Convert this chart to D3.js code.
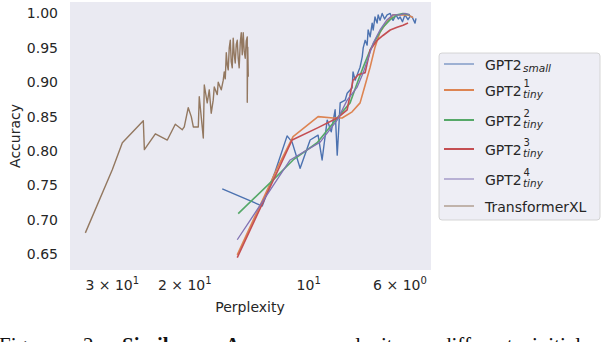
<!DOCTYPE html>
<html>
<head>
<meta charset="utf-8">
<script src="https://cdn.jsdelivr.net/npm/d3@7"></script>
<style>
  body { margin: 0; background: #fff; }
  text { font-family: 'DejaVu Sans', sans-serif; fill: #262626; }
  .caption { font-family: 'Liberation Serif', serif; fill: #111; }
</style>
</head>
<body>
<svg id="chart" width="602" height="342"></svg>
<script>
// Values (perplexity, accuracy)
const smallPpl = [16.17, 12.93, 12.03, 11.25, 10.94, 10.46, 9.89, 9.46, 9.25, 8.99, 8.79, 8.60, 8.50, 8.36, 8.13, 8.04,
    7.82, 7.78, 7.69, 7.60, 7.48, 7.39, 7.35, 7.27, 7.19, 7.15, 7.07, 6.99, 6.95, 6.88, 6.80, 6.76, 6.69, 6.61,
    6.52, 6.43, 6.32, 6.22, 6.12, 6.04, 5.98, 5.90, 5.82, 5.72, 5.65, 5.59, 5.50, 5.47];
const smallAcc = [0.745, 0.720, 0.770, 0.822, 0.813, 0.775, 0.816, 0.823, 0.787, 0.845, 0.828, 0.860, 0.794, 0.870, 0.874, 0.884,
    0.892, 0.915, 0.903, 0.911, 0.922, 0.937, 0.950, 0.961, 0.954, 0.976, 0.966, 0.986, 0.976, 0.995, 0.986, 0.998, 0.990, 1.000,
    0.992, 0.998, 1.000, 0.990, 0.998, 0.992, 0.995, 0.988, 0.998, 0.991, 0.996, 0.995, 0.986, 0.993];

const tiny1Ppl = [14.87, 11.89, 10.88, 9.46, 8.70, 8.27, 7.82, 7.48, 7.27, 7.07, 6.88, 6.69, 6.43, 6.22, 5.98, 5.72, 5.56];
const tiny1Acc = [0.649, 0.775, 0.821, 0.850, 0.848, 0.848, 0.857, 0.870, 0.896, 0.922, 0.951, 0.973, 0.988, 0.998, 0.998, 0.998, 0.994];

const tiny2Ppl = [14.79, 12.16, 10.88, 9.51, 8.50, 7.91, 7.60, 7.35, 7.07, 6.80, 6.58, 6.32, 6.08, 5.88, 5.66];
const tiny2Acc = [0.709, 0.758, 0.787, 0.812, 0.848, 0.870, 0.899, 0.922, 0.947, 0.966, 0.980, 0.991, 0.998, 1.000, 0.998];

const tiny3Ppl = [14.87, 10.94, 9.46, 8.50, 8.04, 7.78, 7.56, 7.27, 7.07, 6.80, 6.58, 6.32, 6.08, 5.88, 5.72];
const tiny3Acc = [0.645, 0.816, 0.834, 0.848, 0.860, 0.903, 0.911, 0.914, 0.947, 0.961, 0.968, 0.976, 0.980, 0.983, 0.986];

const tiny4Ppl = [14.87, 11.06, 9.35, 8.50, 8.04, 7.60, 7.35, 7.15, 6.95, 6.69, 6.43, 6.22, 5.98, 5.82, 5.66];
const tiny4Acc = [0.671, 0.787, 0.813, 0.845, 0.874, 0.893, 0.914, 0.935, 0.957, 0.976, 0.991, 0.998, 0.998, 1.000, 0.998];

const xlPpl = [34.78, 29.90, 28.28, 25.15, 25.00, 23.51, 21.99, 21.03, 20.22, 20.00, 19.56, 19.23, 19.01, 18.49, 18.39,
    17.98, 17.88, 17.59, 17.39, 17.20, 17.01, 16.91, 16.63, 16.54, 16.26, 16.08, 15.99, 15.90, 15.81, 15.72, 15.64,
    15.55, 15.46, 15.38, 15.29, 15.21, 15.12, 15.04, 14.95, 14.87, 14.79, 14.71, 14.62, 14.54, 14.46, 14.38, 14.30,
    14.22, 14.14, 14.06, 14.06, 14.02, 13.98];
const xlAcc = [0.681, 0.773, 0.812, 0.844, 0.802, 0.825, 0.816, 0.839, 0.831, 0.835, 0.863, 0.850, 0.835, 0.835, 0.879,
    0.819, 0.896, 0.870, 0.889, 0.855, 0.874, 0.893, 0.882, 0.900, 0.889, 0.903, 0.915, 0.905, 0.943, 0.925, 0.918,
    0.950, 0.961, 0.930, 0.921, 0.964, 0.940, 0.928, 0.955, 0.961, 0.935, 0.921, 0.958, 0.972, 0.940, 0.972, 0.945,
    0.935, 0.960, 0.966, 0.871, 0.951, 0.908];

const legendBase = ['GPT2', 'GPT2', 'GPT2', 'GPT2', 'GPT2', 'TransformerXL'];
const legendSup = ['', '1', '2', '3', '4', ''];
const legendSub = ['small', 'tiny', 'tiny', 'tiny', 'tiny', ''];

const xTicks = [30, 20, 10, 6];
const xTickMain = ['3 \u00d7 10', '2 \u00d7 10', '10', '6 \u00d7 10'];
const xTickExp = ['1', '1', '1', '0'];
const yTicks = [0.65, 0.70, 0.75, 0.80, 0.85, 0.90, 0.95, 1.00];

const captionWords = ['Figure', '2:', 'Similar', 'Accuracy-', 'perplexity', 'different', 'initial'];

// Styling / layout
const colors = ['#4C72B0', '#DD8452', '#55A868', '#C44E52', '#8172B3', '#937860'];
const widths = [1.4, 1.6, 1.6, 1.6, 1.3, 1.4];
const legendWidths = [1, 2, 2, 2, 1, 1];
const plot = { left: 70, right: 431, top: 2, bottom: 270 };

const series = [
    [smallPpl, smallAcc], [tiny1Ppl, tiny1Acc], [tiny2Ppl, tiny2Acc],
    [tiny3Ppl, tiny3Acc], [tiny4Ppl, tiny4Acc], [xlPpl, xlAcc],
].map(([p, a]) => p.map((v, i) => ({ ppl: v, acc: a[i] })));

const svg = d3.select('#chart');

const x = d3.scaleLog().domain([37.9, 5.03]).range([plot.left, plot.right]);
const y = d3.scaleLinear().domain([0.627, 1.0167]).range([plot.bottom, plot.top]);

svg.append('rect')
    .attr('x', plot.left).attr('y', plot.top)
    .attr('width', plot.right - plot.left).attr('height', plot.bottom - plot.top)
    .attr('fill', '#EAEAF2');

svg.append('clipPath').attr('id', 'plotclip')
    .append('rect')
    .attr('x', plot.left).attr('y', plot.top)
    .attr('width', plot.right - plot.left).attr('height', plot.bottom - plot.top);

const line = d3.line().x(d => x(d.ppl)).y(d => y(d.acc));

svg.append('g').attr('clip-path', 'url(#plotclip)')
    .selectAll('path')
    .data(series)
    .join('path')
        .attr('d', line)
        .attr('fill', 'none')
        .attr('stroke', (d, i) => colors[i])
        .attr('stroke-width', (d, i) => widths[i])
        .attr('stroke-linejoin', 'round');

// y axis
const yAxis = svg.append('g')
    .attr('transform', `translate(${plot.left},0)`)
    .call(d3.axisLeft(y).tickValues(yTicks).tickFormat(d3.format('.2f')).tickSize(0).tickPadding(12));
yAxis.select('.domain').remove();
yAxis.selectAll('text').attr('font-size', 14).attr('fill', '#262626')
    .attr('font-family', "'DejaVu Sans', sans-serif");

// x axis
const xAxis = svg.append('g')
    .attr('transform', `translate(0,${plot.bottom})`)
    .call(d3.axisBottom(x).tickValues(xTicks).tickFormat('').tickSize(0));
xAxis.select('.domain').remove();
xAxis.selectAll('.tick text')
    .attr('y', 20).attr('dy', 0)
    .attr('font-size', 14).attr('fill', '#262626')
    .attr('font-family', "'DejaVu Sans', sans-serif")
    .each(function(d, i) {
        const t = d3.select(this);
        t.append('tspan').text(xTickMain[i]);
        t.append('tspan').attr('dy', -6).attr('font-size', 10).text(xTickExp[i]);
    });

svg.append('text')
    .attr('x', 250).attr('y', 312)
    .attr('text-anchor', 'middle').attr('font-size', 14)
    .text('Perplexity');

svg.append('text')
    .attr('transform', 'translate(20,136) rotate(-90)')
    .attr('text-anchor', 'middle').attr('font-size', 14)
    .text('Accuracy');

// legend
const legend = svg.append('g');
legend.append('rect')
    .attr('x', 439).attr('y', 53).attr('width', 161).attr('height', 167)
    .attr('rx', 3)
    .attr('fill', '#EEEEF5').attr('stroke', '#cccccc').attr('stroke-width', 0.8);

const rowY = [64, 90, 120, 149, 179, 206];
const rows = legend.selectAll('g.row')
    .data(legendBase)
    .join('g')
        .attr('class', 'row')
        .attr('transform', (d, i) => `translate(0,${rowY[i]})`);

rows.append('line')
    .attr('x1', 444).attr('x2', 474)
    .attr('stroke', (d, i) => colors[i])
    .attr('stroke-width', (d, i) => legendWidths[i]);

rows.append('text')
    .attr('x', 485).attr('y', 5.5).attr('font-size', 14)
    .text(d => d);

rows.each(function(d, i) {
    const g = d3.select(this);
    if (legendSup[i]) {
        g.append('text')
            .attr('x', 523.5).attr('y', -3).attr('font-size', 10)
            .text(legendSup[i]);
    }
    if (legendSub[i]) {
        g.append('text')
            .attr('x', 523).attr('y', 8)
            .attr('font-size', 10.5).attr('font-style', 'italic')
            .text(legendSub[i]);
    }
});

// caption (only its top shows at the bottom edge, as in the reference)
const captionX = [-1, 83, 122, 225, 318, 441, 532];
svg.selectAll('text.caption')
    .data(captionWords)
    .join('text')
        .attr('class', 'caption')
        .attr('x', (d, i) => captionX[i])
        .attr('y', 352)
        .attr('font-size', 21)
        .attr('font-weight', (d, i) => (i === 2 || i === 3) ? 'bold' : 'normal')
        .text(d => d);
</script>
</body>
</html>
